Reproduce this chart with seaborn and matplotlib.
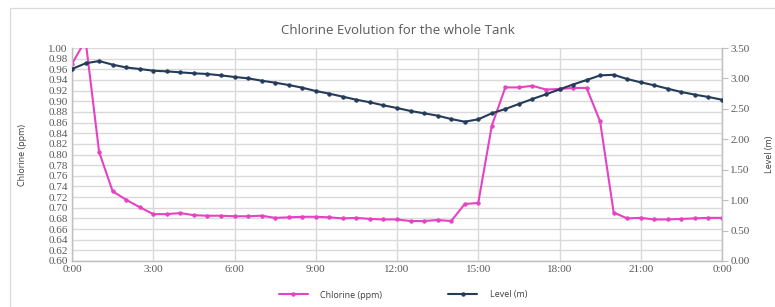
import matplotlib
matplotlib.use('Agg')
from matplotlib import pyplot as plt
from matplotlib.patches import Rectangle
import seaborn as sns
import pandas as pd

# half-hour steps over one day
hours = [h / 2 for h in range(49)]

chlorine = [0.970, 1.015, 0.805, 0.731, 0.715, 0.701, 0.688, 0.688, 0.690, 0.686,
            0.685, 0.685, 0.684, 0.684, 0.685, 0.681, 0.682, 0.683, 0.683, 0.682,
            0.680, 0.681, 0.679, 0.678, 0.678, 0.675, 0.675, 0.677, 0.675, 0.707,
            0.709, 0.854, 0.926, 0.926, 0.929, 0.922, 0.923, 0.925, 0.925, 0.862,
            0.691, 0.680, 0.681, 0.678, 0.678, 0.679, 0.680, 0.681, 0.681]

level = [3.155, 3.248, 3.286, 3.226, 3.180, 3.155, 3.127, 3.116, 3.100, 3.084,
         3.073, 3.050, 3.024, 3.002, 2.963, 2.930, 2.892, 2.848, 2.793, 2.750,
         2.700, 2.650, 2.608, 2.558, 2.514, 2.465, 2.427, 2.388, 2.333, 2.289,
         2.328, 2.427, 2.498, 2.580, 2.662, 2.739, 2.820, 2.900, 2.974, 3.050,
         3.060, 2.990, 2.936, 2.887, 2.831, 2.777, 2.733, 2.695, 2.650]

x_ticks = [0, 3, 6, 9, 12, 15, 18, 21, 24]
x_labels = ["0:00", "3:00", "6:00", "9:00", "12:00", "15:00", "18:00", "21:00", "0:00"]

df = pd.DataFrame({"hour": hours, "chlorine": chlorine, "level": level})

pink = "#E642C4"
navy = "#243B5A"
grid = "#D9D9D9"
text_c = "#595959"

sns.set_style("white")
plt.rcParams['font.family'] = ['Open Sans', 'DejaVu Sans']

fig = plt.figure(figsize=(7.75, 3.07), dpi=100)
ax = fig.add_axes([72 / 775, 1 - 261 / 307, 650 / 775, 213 / 307])
ax2 = ax.twinx()

# outer chart frame (runs off the right and bottom edges)
fig.patches.append(Rectangle((10 / 775, -0.1), 1.2, 1 - 8 / 307 + 0.1,
                             transform=fig.transFigure, fill=False,
                             edgecolor="#D9D9D9", lw=0.9))

sns.lineplot(data=df, x="hour", y="chlorine", ax=ax, color=pink, lw=1.5,
             marker="o", markersize=2.4, markeredgecolor=pink, zorder=3,
             label="Chlorine (ppm)", legend=False)
sns.lineplot(data=df, x="hour", y="level", ax=ax2, color=navy, lw=1.5,
             marker="o", markersize=2.4, markeredgecolor=navy, zorder=3,
             label="Level (m)", legend=False)

ax.set_xlim(0, 24)
ax.set_ylim(0.60, 1.00)
ax2.set_ylim(0, 3.5)

ax.set_yticks([0.60 + 0.02 * i for i in range(21)])
ax.set_yticklabels([f"{0.60 + 0.02 * i:.2f}" for i in range(21)])
ax2.set_yticks([0.5 * i for i in range(8)])
ax2.set_yticklabels([f"{0.5 * i:.2f}" for i in range(8)])
ax.set_xticks(x_ticks)
ax.set_xticklabels(x_labels)

for a in (ax, ax2):
    for lab in a.get_xticklabels() + a.get_yticklabels():
        lab.set_family(['Liberation Serif', 'DejaVu Serif'])
        lab.set_fontsize(8)
        lab.set_color(text_c)

ax.grid(True, color=grid, lw=1.0)
ax.set_axisbelow(True)
ax.tick_params(axis='both', length=0, pad=3)
ax2.tick_params(axis='y', length=4, color="#BFBFBF", pad=2)

for a in (ax, ax2):
    for s in a.spines.values():
        s.set_color("#BFBFBF")
        s.set_linewidth(0.9)
    a.spines['top'].set_visible(False)

ax.set_xlabel("")
ax.set_ylabel("Chlorine (ppm)", fontsize=6.5, color="#404040")
ax2.set_ylabel("Level (m)", fontsize=6.5, color="#404040")
ax.yaxis.set_label_coords(-45 / 650, 0.5)
ax2.yaxis.set_label_coords(1 + 43 / 650, 0.5)

fig.text(398 / 775, 1 - 30 / 307, "Chlorine Evolution for the whole Tank",
         ha="center", va="center", fontsize=9.5, color=text_c)

h1, l1 = ax.get_legend_handles_labels()
h2, l2 = ax2.get_legend_handles_labels()
fig.legend(h1 + h2, l1 + l2, loc="center", bbox_to_anchor=(403 / 775, 1 - 295 / 307),
           ncol=2, frameon=False, fontsize=6.5, handlelength=3.2,
           columnspacing=7.3, handletextpad=1.4, labelcolor="#404040")

fig.savefig("out.png", dpi=100)
